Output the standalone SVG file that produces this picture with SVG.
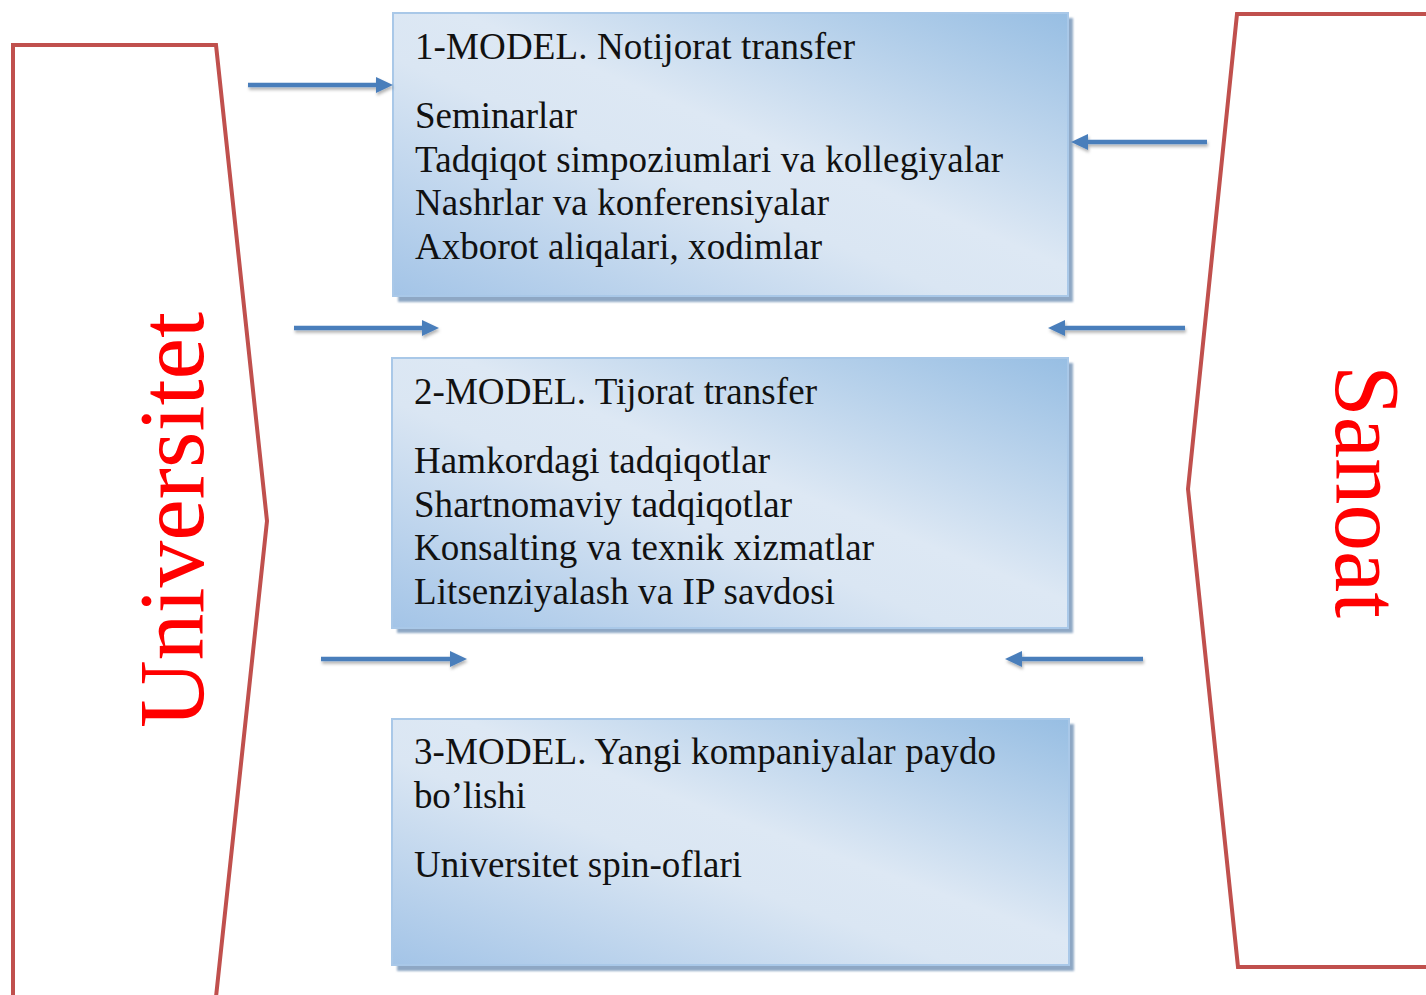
<svg xmlns="http://www.w3.org/2000/svg" width="1426" height="995" viewBox="0 0 1426 995">
<style>
.side{fill:none;stroke:#c0504d;stroke-width:4;stroke-linejoin:miter}
.box{fill:url(#bg);stroke:#a9c8e8;stroke-width:2}
.shadow{fill:#8ea7c4;filter:url(#blur)}
.t{font-family:"Liberation Serif","Times New Roman",serif;font-size:37px;fill:#111}
.big{font-family:"Liberation Serif","Times New Roman",serif;font-size:94px;fill:#ff0000}
.arr{stroke:#4a7ebb;stroke-width:4.5;fill:none;marker-end:url(#ah)}
</style>
<defs>
<linearGradient id="bg" x1="0" y1="1" x2="1" y2="0">
<stop offset="0" stop-color="#a3c4e7"/>
<stop offset="0.42" stop-color="#dae6f3"/>
<stop offset="0.55" stop-color="#dde8f4"/>
<stop offset="1" stop-color="#97bee3"/>
</linearGradient>
<filter id="blur" x="-5%" y="-5%" width="110%" height="110%"><feGaussianBlur stdDeviation="1.2"/></filter>
<filter id="ds" filterUnits="userSpaceOnUse" x="0" y="0" width="1426" height="995"><feDropShadow dx="1" dy="2.5" stdDeviation="1.5" flood-color="#000" flood-opacity="0.3"/></filter>
<marker id="ah" markerUnits="userSpaceOnUse" markerWidth="19" markerHeight="17" refX="6" refY="8" orient="auto">
<path d="M0,0 L17,8 L0,16 z" fill="#4a7ebb"/>
</marker>
</defs>
<rect width="1426" height="995" fill="#ffffff"/>

<g id="universitet">
<path class="side" d="M13,997 L13,45 L216,45 L267,521 L216,997"/>
<text class="big" transform="translate(203,728) rotate(-90)" textLength="416" lengthAdjust="spacingAndGlyphs">Universitet</text>
</g>

<g id="sanoat">
<path class="side" d="M1428,14 L1237,14 L1188,489 L1238,967 L1428,967"/>
<text class="big" transform="translate(1336,365) rotate(90)" textLength="253" lengthAdjust="spacingAndGlyphs">Sanoat</text>
</g>

<g id="model1">
<rect class="shadow" x="398" y="18" width="675" height="284"/>
<rect class="box" x="393" y="13" width="675" height="283"/>
<text class="t" x="415" y="59" textLength="440">1-MODEL. Notijorat transfer</text>
<text class="t" x="415" y="128" textLength="162">Seminarlar</text>
<text class="t" x="415" y="172" textLength="588">Tadqiqot simpoziumlari va kollegiyalar</text>
<text class="t" x="415" y="215" textLength="414">Nashrlar va konferensiyalar</text>
<text class="t" x="415" y="259" textLength="407">Axborot aliqalari, xodimlar</text>
</g>

<g id="model2">
<rect class="shadow" x="397" y="363" width="676" height="270"/>
<rect class="box" x="392" y="358" width="676" height="270"/>
<text class="t" x="414" y="404" textLength="403">2-MODEL. Tijorat transfer</text>
<text class="t" x="414" y="473" textLength="356">Hamkordagi tadqiqotlar</text>
<text class="t" x="414" y="517" textLength="378">Shartnomaviy tadqiqotlar</text>
<text class="t" x="414" y="560" textLength="460">Konsalting va texnik xizmatlar</text>
<text class="t" x="414" y="604" textLength="421">Litsenziyalash va IP savdosi</text>
</g>

<g id="model3">
<rect class="shadow" x="397" y="724" width="677" height="247"/>
<rect class="box" x="392" y="719" width="677" height="246"/>
<text class="t" x="414" y="764" textLength="582">3-MODEL. Yangi kompaniyalar paydo</text>
<text class="t" x="414" y="808" textLength="112">bo’lishi</text>
<text class="t" x="414" y="877" textLength="328">Universitet spin-oflari</text>
</g>

<g id="connectors" filter="url(#ds)">
<line class="arr" x1="248" y1="85" x2="382" y2="85"/>
<line class="arr" x1="1207" y1="142" x2="1082" y2="142"/>
<line class="arr" x1="294" y1="328" x2="428" y2="328"/>
<line class="arr" x1="1185" y1="328" x2="1059" y2="328"/>
<line class="arr" x1="321" y1="659" x2="456" y2="659"/>
<line class="arr" x1="1143" y1="659" x2="1016" y2="659"/>
</g>
</svg>
